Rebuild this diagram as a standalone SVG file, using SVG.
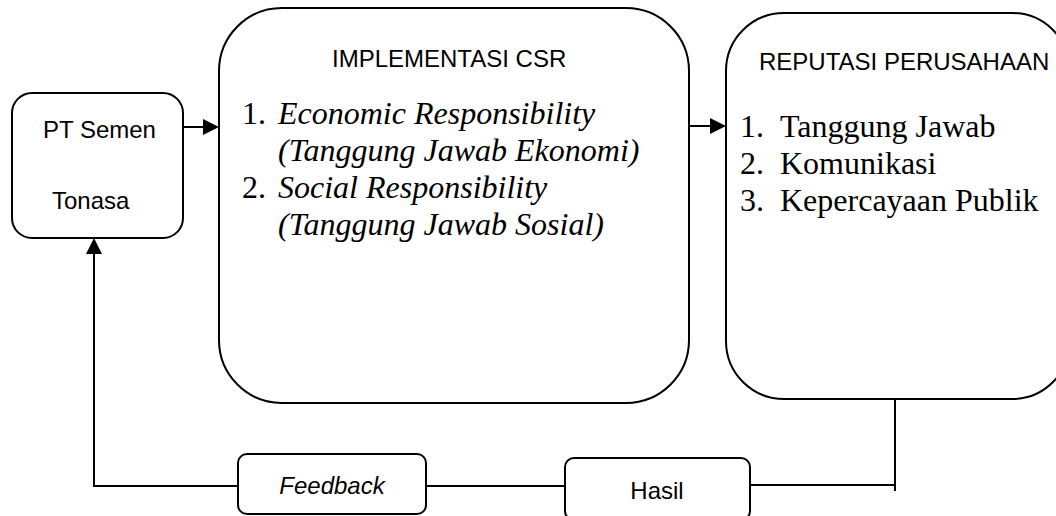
<svg xmlns="http://www.w3.org/2000/svg" width="1056" height="516" viewBox="0 0 1056 516">
<style>
.box{fill:#fff;stroke:#000;stroke-width:2}
.ln{fill:none;stroke:#000;stroke-width:2}
.sans{font-family:"Liberation Sans",Arial,sans-serif;font-size:24px;fill:#000}
.serif{font-family:"Liberation Serif","Times New Roman",serif;font-size:32px;fill:#000}
.it{font-style:italic}
</style>
<defs>
<marker id="ah" viewBox="0 0 10 10" refX="10" refY="5" markerWidth="8" markerHeight="8" markerUnits="userSpaceOnUse" orient="auto">
<path d="M0,0 L10,5 L0,10 z" fill="#000"/>
</marker>
</defs>
<rect width="1056" height="516" fill="#fff"/>
<g id="connectors">
<line class="ln" x1="183" y1="127" x2="204" y2="127"/>
<path d="M203,119 L219,127 L203,135 z" fill="#000"/>
<line class="ln" x1="689" y1="126" x2="711" y2="126"/>
<path d="M710,118 L726,126 L710,134 z" fill="#000"/>
<polyline class="ln" points="238,486 94,486 94,253"/>
<path d="M86,254 L94,238 L102,254 z" fill="#000"/>
<line class="ln" x1="426" y1="486" x2="565" y2="486"/>
<line class="ln" x1="750" y1="485" x2="895" y2="485"/>
<line class="ln" x1="895" y1="399" x2="895" y2="491"/>
</g>
<g id="pt-semen">
<rect class="box" x="12" y="93" width="171" height="145" rx="20"/>
<text class="sans" x="43" y="138">PT Semen</text>
<text class="sans" x="52" y="209">Tonasa</text>
</g>
<g id="implementasi">
<rect class="box" x="219" y="8" width="470" height="395" rx="63"/>
<text class="sans" x="332" y="67">IMPLEMENTASI CSR</text>
<text class="serif" x="242" y="124">1.</text>
<text class="serif it" x="278" y="124">Economic Responsibility</text>
<text class="serif it" x="278" y="161">(Tanggung Jawab Ekonomi)</text>
<text class="serif" x="242" y="198">2.</text>
<text class="serif it" x="278" y="198">Social Responsibility</text>
<text class="serif it" x="278" y="235">(Tanggung Jawab Sosial)</text>
</g>
<g id="reputasi">
<rect class="box" x="726" y="13" width="344" height="386" rx="58"/>
<text class="sans" x="759" y="70">REPUTASI PERUSAHAAN</text>
<text class="serif" x="740" y="137">1.</text>
<text class="serif" x="780" y="137">Tanggung Jawab</text>
<text class="serif" x="740" y="174">2.</text>
<text class="serif" x="780" y="174">Komunikasi</text>
<text class="serif" x="740" y="211">3.</text>
<text class="serif" x="780" y="211">Kepercayaan Publik</text>
</g>
<g id="feedback">
<rect class="box" x="238" y="454" width="188" height="60" rx="9"/>
<text class="sans it" x="332" y="494" text-anchor="middle">Feedback</text>
</g>
<g id="hasil">
<rect class="box" x="565" y="458" width="185" height="62" rx="9"/>
<text class="sans" x="657" y="499" text-anchor="middle">Hasil</text>
</g>
</svg>
